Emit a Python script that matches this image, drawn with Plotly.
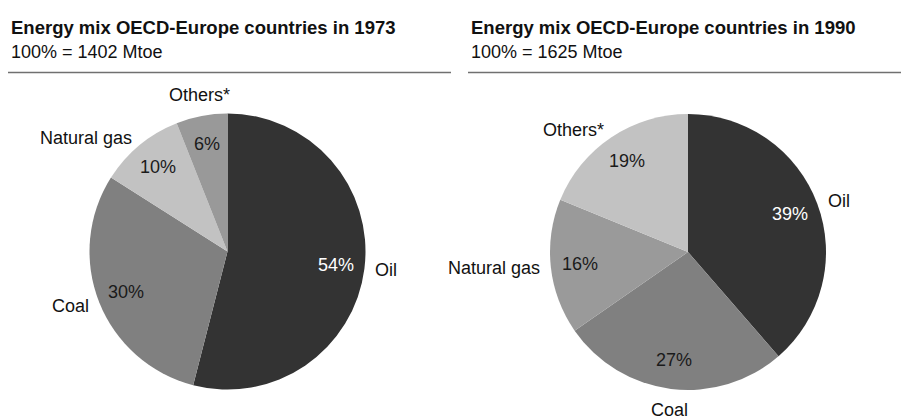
import math
import plotly.graph_objects as go

# ---- data -------------------------------------------------------------
categories = ["Oil", "Coal", "Natural gas", "Others*"]
shares_1973 = [54, 30, 10, 6]
shares_1990 = [39, 27, 16, 19]
colors_1973 = ["#333333", "#808080", "#c2c2c2", "#999999"]
colors_1990 = ["#333333", "#808080", "#9a9a9a", "#c2c2c2"]
titles = ["Energy mix OECD-Europe countries in 1973",
          "Energy mix OECD-Europe countries in 1990"]
subtitles = ["100% = 1402 Mtoe", "100% = 1625 Mtoe"]

# ---- layout geometry (pixels) ----------------------------------------
W, H = 901, 419
FONT = "Liberation Sans, Arial, Helvetica, sans-serif"
RADIUS = 138
LABEL_SIZE = 18
pies = [
    dict(values=shares_1973, colors=colors_1973, cx=227.5, cy=251.5,
         title=titles[0], sub=subtitles[0], tx=9, rule=(8, 451)),
    dict(values=shares_1990, colors=colors_1990, cx=688, cy=252,
         title=titles[1], sub=subtitles[1], tx=469, rule=(468, 901)),
]


def px_x(x):
    return x / W


def px_y(y):
    return 1 - y / H


fig = go.Figure()
annotations = []
shapes = []

for p in pies:
    cx, cy = p["cx"], p["cy"]
    fig.add_trace(go.Pie(
        labels=categories,
        values=p["values"],
        marker=dict(colors=p["colors"], line=dict(width=0)),
        sort=False,
        direction="clockwise",
        rotation=0,
        textinfo="none",
        hoverinfo="label+percent",
        showlegend=False,
        domain=dict(x=[px_x(cx - RADIUS), px_x(cx + RADIUS)],
                    y=[px_y(cy + RADIUS), px_y(cy - RADIUS)]),
    ))

    # slice labels: share inside, category name outside, both at mid-angle
    total = sum(p["values"])
    start = 0.0
    for name, val, col in zip(categories, p["values"], p["colors"]):
        mid = (start + val / 2) / total * 2 * math.pi
        start += val
        s, c = math.sin(mid), math.cos(mid)
        # percentage text
        r_in = 0.79 * RADIUS
        annotations.append(dict(
            x=px_x(cx + r_in * s), y=px_y(cy - r_in * c),
            xref="paper", yref="paper", showarrow=False,
            text=f"{val}%", xanchor="center", yanchor="middle",
            font=dict(family=FONT, size=LABEL_SIZE,
                      color="#ffffff" if col == "#333333" else "#1a1a1a"),
        ))
        # category name
        r_out = RADIUS + 9
        if s > 0.3:
            xa, ya = "left", "middle"
        elif s < -0.3:
            xa, ya = "right", "middle"
        else:
            xa = "center"
            ya = "bottom" if c > 0 else "top"
        annotations.append(dict(
            x=px_x(cx + r_out * s), y=px_y(cy - r_out * c),
            xref="paper", yref="paper", showarrow=False,
            text=name, xanchor=xa, yanchor=ya,
            font=dict(family=FONT, size=LABEL_SIZE, color="#111111"),
        ))

    # header: bold title, total, rule
    annotations.append(dict(
        x=px_x(p["tx"]), y=px_y(27), xref="paper", yref="paper",
        showarrow=False, xanchor="left", yanchor="middle",
        text=f"<b>{p['title']}</b>",
        font=dict(family=FONT, size=18.5, color="#111111"),
    ))
    annotations.append(dict(
        x=px_x(p["tx"]), y=px_y(52), xref="paper", yref="paper",
        showarrow=False, xanchor="left", yanchor="middle",
        text=p["sub"],
        font=dict(family=FONT, size=18, color="#111111"),
    ))
    shapes.append(dict(
        type="line", xref="paper", yref="paper",
        x0=px_x(p["rule"][0]), x1=px_x(p["rule"][1]),
        y0=px_y(72.5), y1=px_y(72.5),
        line=dict(color="#707070", width=1.6),
    ))

fig.update_layout(
    width=W, height=H,
    margin=dict(l=0, r=0, t=0, b=0),
    paper_bgcolor="#ffffff",
    plot_bgcolor="#ffffff",
    annotations=annotations,
    shapes=shapes,
    font=dict(family=FONT),
)

fig.write_html("out.html")
